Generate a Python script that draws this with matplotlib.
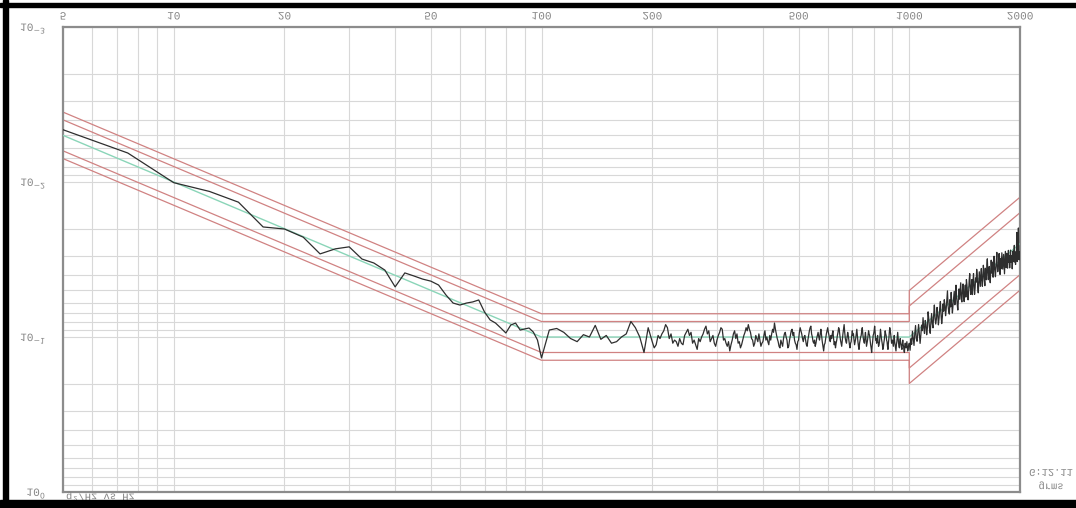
import numpy as np
import matplotlib
matplotlib.use("Agg")
import matplotlib.pyplot as plt
import matplotlib.patheffects as pe
from matplotlib.patches import Rectangle
from matplotlib.ticker import LogLocator, NullFormatter
from matplotlib.transforms import Affine2D

# --- reference profile (breakpoints, g^2/Hz) ---
prof_freq = [5, 100, 1000, 2000]
prof_psd = [0.005, 0.1, 0.1, 0.025]

# tolerance bands in dB around the profile: (alarm, abort)
tol_freq = [5, 100, 1000, 1000, 2000]
tol_alarm_db = [1.0, 1.0, 1.0, 2.0, 2.0]
tol_abort_db = [1.5, 1.5, 1.5, 3.0, 3.0]

# --- measured spectrum ---
# 5 .. 97.5 Hz, 2.5 Hz lines, g^2/Hz
psd_low = [0.0046, 0.0065, 0.0101, 0.0115, 0.0135, 0.0195, 0.0201, 0.0227, 0.0291, 0.0270,
           0.0262, 0.0314, 0.0333, 0.0370, 0.0475, 0.0386, 0.0404, 0.0423, 0.0436, 0.0462,
           0.0536, 0.0604, 0.0622, 0.0604, 0.0594, 0.0577, 0.0690, 0.0776, 0.0813, 0.0875,
           0.0942, 0.0837, 0.0813, 0.0902, 0.0887, 0.0875, 0.0929, 0.1045]

# 100 .. 195 Hz, 5 Hz lines, deviation from profile in dB
dev_mid_db = [
    1.35, -0.45, -0.55, -0.3, 0.1, 0.3, -0.15, 0.0, -0.75, 0.15,
    -0.1, 0.4, 0.3, 0.0, -0.2, -1.0, -0.6, 0.0, 1.0, -0.6,
]

# 200 .. 997.5 Hz, 2.5 Hz lines, deviation from profile in dB
dev_plateau_db = [
    0.3, 0.7, 0.5, -0.1, 0.1, -0.2, -0.4, -0.8, -0.6, 0.1,
    -0.2, 0.4, 0.2, 0.3, 0.6, 0.1, 0.4, 0.5, -0.1, -0.3,
    -0.5, -0.1, -0.3, 0.4, 0.2, 0.5, 0.8, 0.1, 0.3, 0.0,
    -0.2, -0.5, -0.7, -0.2, -0.4, 0.3, 0.1, -0.1, 0.4, 0.6,
    0.2, -0.1, -0.3, -0.6, -0.5, 0.2, 0.1, 0.4, 0.6, 0.3,
    0.9, 0.5, 0.2, -0.2, -0.4, 0.1, -0.2, 0.4, 0.3, 0.7,
    0.5, 0.2, -0.1, -0.3, -0.6, -0.4, -0.8, -0.5, -0.3, 0.1,
    0.2, 0.6, 0.4, -0.1, 0.1, 0.3, -0.2, 0.2, 0.6, 0.4,
    0.3, -0.1, -0.4, 0.2, 0.0, 0.3, 0.5, -0.1, 0.2, -0.2,
    -0.5, -0.3, -0.9, -0.5, -0.2, 0.1, 0.3, 0.6, 0.7, 0.2,
    0.4, 0.6, 0.1, -0.2, -0.3, 0.0, 0.2, 0.7, 0.6, 0.2,
    -0.1, -0.4, -0.5, -0.1, -0.3, 0.2, 0.4, 0.5, 0.8, 0.3,
    0.2, -0.3, -0.6, -0.4, -0.2, 0.1, 0.3, 0.0, -0.1, 0.2,
    0.5, 0.6, 0.2, -0.1, -0.4, -0.6, -0.7, -0.2, 0.0, 0.3,
    0.4, 0.2, 0.6, 0.4, 0.1, -0.1, -0.3, 0.0, 0.2, -0.2,
    -0.5, -0.1, 0.3, 0.6, 0.9, 0.5, 0.4, 0.1, -0.2, -0.4,
    -0.6, -0.3, -0.1, 0.2, 0.3, -0.1, 0.1, -0.2, -0.4, 0.1,
    0.5, 0.3, 0.7, 0.4, 0.2, -0.1, -0.3, -0.6, -0.5, -0.1,
    0.2, 0.4, 0.6, 0.2, -0.2, -0.5, -0.8, -0.3, 0.1, 0.3,
    0.4, 0.0, -0.3, -0.1, 0.2, 0.5, 0.7, 0.4, 0.3, -0.1,
    -0.4, -0.1, -0.2, 0.2, 0.5, 0.3, 0.1, -0.2, -0.5, -0.1,
    0.3, 0.6, 0.8, 0.4, 0.2, 0.0, -0.1, -0.4, -0.6, -0.2,
    0.1, 0.3, 0.4, 0.0, -0.3, 0.2, 0.6, 0.4, 0.2, -0.1,
    -0.4, -0.2, -0.1, 0.2, 0.5, 0.7, 1.0, 0.6, 0.3, -0.1,
    -0.2, -0.4, -0.7, -0.3, 0.2, 0.1, 0.4, 0.2, -0.1, 0.3,
    0.6, 0.5, 0.3, -0.1, -0.5, -0.2, 0.1, 0.3, 0.5, 0.8,
    0.7, 0.4, 0.2, -0.1, -0.4, -0.2, -0.1, 0.2, 0.3, 0.6,
    0.8, 0.4, 0.1, -0.3, -0.6, -0.4, -0.2, 0.1, 0.4, 0.3,
    0.2, 0.4, 0.6, 0.2, -0.1, 0.3, 0.5, 0.7, 0.9, 0.5,
    0.3, 0.0, -0.3, 0.1, 0.4, 0.6, 0.7, 0.3, 0.1, 0.4,
    0.5, 0.7, 0.8, 0.4, 0.2, 0.5, 0.6, 0.9, 1.0, 0.6,
    0.4, 0.6, 0.7, 0.5, 0.3, 0.6, 0.9, 0.8, 0.6, 0.5,
]

# 1000 .. 2000 Hz, 5 Hz lines, deviation from profile in dB
dev_high_db = [
    0.4, 0.9, 0.2, 0.6, -0.2, 0.3, 0.8, 0.1, -0.4, 0.5,
    0.7, 0.2, -0.3, 0.4, 1.0, 0.5, -0.1, 0.3, -0.5, 0.2,
    0.6, -0.2, 0.1, 0.8, 0.4, -0.6, -0.1, 0.5, 0.9, 0.2,
    -0.3, 0.4, 0.7, -0.1, -0.7, 0.2, 0.6, 0.3, -0.4, 0.1,
    0.8, 0.4, -0.2, -0.6, 0.3, 0.9, 0.5, -0.3, 0.2, -0.5,
    -0.1, 0.6, 0.2, -0.4, -0.9, 0.1, 0.5, 0.7, -0.2, 0.3,
    -0.6, 0.2, 0.8, 0.3, -0.1, -0.5, 0.4, 0.1, -0.8, 0.0,
    0.5, 0.9, 0.2, -0.4, 0.3, -0.2, -0.7, 0.4, 0.6, -0.1,
    -0.5, 0.2, 0.7, 0.1, -0.3, 0.5, -0.6, -0.2, 0.4, 0.8,
    0.3, -0.4, -0.8, 0.1, 0.6, 0.2, -0.3, 0.7, -0.1, -0.6,
    0.2, 0.8, 0.4, -0.2, 0.1, -0.7, -0.3, 0.5, 0.9, 0.3,
    -0.4, 0.1, 0.6, -0.1, -0.5, 0.3, 0.7, 0.2, -0.6, -0.2,
    0.4, 0.8, -0.3, 0.2, 0.5, -0.4, -0.8, 0.1, 0.6, 0.3,
    -0.2, 0.5, 0.9, 0.2, -0.5, 0.1, 0.4, -0.3, 0.7, 0.2,
    -0.6, 0.0, 0.5, 0.8, 0.3, -0.2, -0.7, 0.2, 0.6, 0.4,
    0.1, -0.5, 0.3, 0.9, 0.4, -0.1, 0.6, -0.4, 0.2, 0.7,
    0.3, -0.2, 0.5, 1.1, 0.4, -0.3, 0.2, 0.8, -0.1, 0.5,
    0.9, 0.3, -0.2, 0.6, 0.2, 1.0, 0.4, -0.1, 0.7, 0.3,
    0.5, 1.2, 0.6, 0.1, 0.8, 0.4, -0.2, 0.9, 0.5, 1.1,
    0.3, 0.8, -0.9, 1.0, 0.4, 0.9, -1.1, 0.7, 1.0, 0.5,
    0.6,
]

x_ticks = [5, 10, 20, 50, 100, 200, 500, 1000, 2000]
x_ticklabels = ["5", "10", "20", "50", "100", "200", "500", "1000", "2000"]
y_ticks = [1e-3, 1e-2, 1e-1, 1e0]
y_ticklabels = ["10$^{-3}$", "10$^{-2}$", "10$^{-1}$", "10$^{0}$"]
grms_text = "G:12.11"
grms_unit = "grms"
axis_text = "g²/Hz vs Hz"


class FlipV(pe.AbstractPathEffect):
    """Mirror each text line top-to-bottom about its own centre."""

    def draw_path(self, renderer, gc, tpath, affine, rgbFace=None):
        ext = tpath.get_extents()
        cy = 0.5 * (ext.y0 + ext.y1)
        flip = Affine2D().translate(0, -cy).scale(1, -1).translate(0, cy)
        renderer.draw_path(gc, tpath, flip + affine, rgbFace)


def profile_at(f):
    return 10 ** np.interp(np.log10(f), np.log10(prof_freq), np.log10(prof_psd))


f_low = np.arange(5, 100, 2.5)
f_mid = np.arange(100, 200, 5.0)
f_plateau = np.arange(200, 1000, 2.5)
f_high = np.arange(1000, 2000.1, 5.0)

freq = np.concatenate([f_low, f_mid, f_plateau, f_high])
psd = np.concatenate([
    np.array(psd_low),
    profile_at(f_mid) * 10 ** (np.array(dev_mid_db) / 10),
    profile_at(f_plateau) * 10 ** (np.array(dev_plateau_db) / 10),
    profile_at(f_high) * 10 ** (np.array(dev_high_db) / 10),
])

W, H = 1076, 508
fig = plt.figure(figsize=(W / 100, H / 100), dpi=100)
ax = fig.add_axes([63 / W, 1 - 492 / H, (1020 - 63) / W, (492 - 27) / H])

ax.set_xscale("log")
ax.set_yscale("log")
ax.set_xlim(5, 2000)
ax.set_ylim(1, 1e-3)

ax.grid(True, which="both", color="#d8d8d8", lw=0.8)
ax.set_axisbelow(True)

# tolerance lines
tf = np.array(tol_freq, dtype=float)
tp = profile_at(tf)
red = "#d08282"
for db in (tol_abort_db, tol_alarm_db):
    db = np.array(db)
    ax.plot(tf, tp * 10 ** (db / 10), color=red, lw=0.9, zorder=2)
    ax.plot(tf, tp * 10 ** (-db / 10), color=red, lw=0.9, zorder=2)

ax.plot(prof_freq, prof_psd, color="#8ad5b8", lw=1.0, zorder=3)
ax.plot(freq, psd, color="#2e2e2e", lw=0.9, zorder=4)

# axes and ticks
ax.xaxis.tick_top()
ax.set_xticks(x_ticks)
ax.set_xticklabels(x_ticklabels)
ax.set_yticks(y_ticks)
ax.set_yticklabels(y_ticklabels)
ax.xaxis.set_minor_locator(LogLocator(base=10, subs=np.arange(2, 10), numticks=50))
ax.yaxis.set_minor_locator(LogLocator(base=10, subs=np.arange(2, 10), numticks=50))
ax.xaxis.set_minor_formatter(NullFormatter())
ax.yaxis.set_minor_formatter(NullFormatter())
ax.tick_params(which="both", length=0)
ax.tick_params(axis="x", pad=4, labelsize=8, labelcolor="#858585")
ax.tick_params(axis="y", pad=12, labelsize=8, labelcolor="#858585")

flip = [FlipV()]
for lab in ax.get_xticklabels() + ax.get_yticklabels():
    lab.set_fontfamily("Liberation Mono")
    lab.set_path_effects(flip)

for side in ax.spines.values():
    side.set_color("#8c8c8c")
    side.set_linewidth(1.6)

txt_kw = dict(fontsize=7.5, color="#858585", family="Liberation Mono",
              path_effects=flip)
fig.text(66 / W, 1 - 496 / H, axis_text, ha="left", va="center", **txt_kw)
fig.text(1051 / W, 1 - 473 / H, grms_text, ha="center", va="center", **txt_kw)
fig.text(1051 / W, 1 - 484 / H, grms_unit, ha="center", va="center", **txt_kw)

# dark frame around the sheet
for x0, y0, w, h in [(3, 0, 5, H), (0, 3, W, 4), (0, H - 8, W, 8)]:
    fig.patches.append(Rectangle((x0 / W, 1 - (y0 + h) / H), w / W, h / H,
                                 transform=fig.transFigure, color="black", zorder=10))

fig.savefig("out.png", dpi=100)
